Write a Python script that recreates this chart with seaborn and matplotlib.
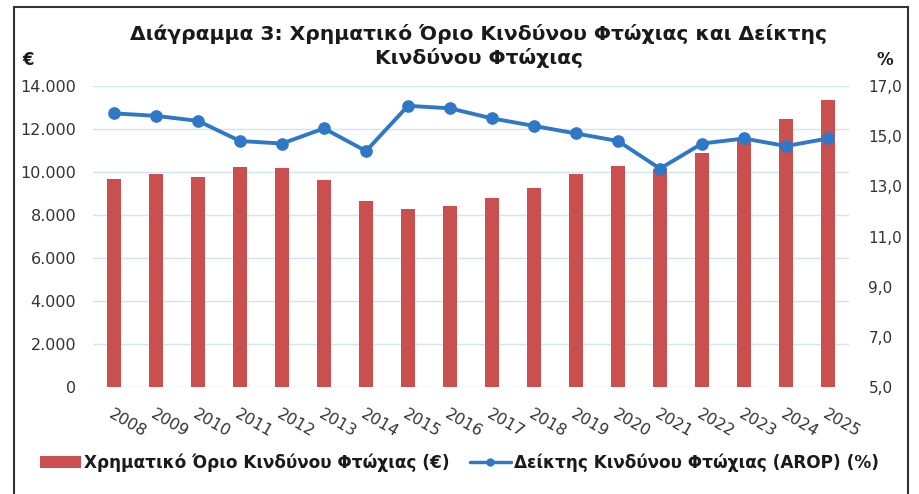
import numpy as np
import pandas as pd
import matplotlib.pyplot as plt
import seaborn as sns
from matplotlib.patches import Rectangle, Patch
from matplotlib.lines import Line2D
from matplotlib.ticker import FuncFormatter

years = [str(y) for y in range(2008, 2026)]
threshold = [9670, 9900, 9780, 10240, 10190, 9610, 8650, 8290, 8420,
             8770, 9270, 9900, 10270, 10150, 10880, 11560, 12450, 13340]
arop = [15.9, 15.8, 15.6, 14.8, 14.7, 15.3, 14.4, 16.2, 16.1,
        15.7, 15.4, 15.1, 14.8, 13.7, 14.7, 14.9, 14.6, 14.9]

bar_label = "Χρηματικό Όριο Κινδύνου Φτώχιας (€)"
line_label = "Δείκτης Κινδύνου Φτώχιας (AROP) (%)"
title = "Διάγραμμα 3: Χρηματικό Όριο Κινδύνου Φτώχιας και Δείκτης\nΚινδύνου Φτώχιας"

df = pd.DataFrame({"year": years, "threshold": threshold, "arop": arop})

sns.set_style("white")
plt.rcParams['font.family'] = ['DejaVu Sans']

red = '#c9504e'
blue = '#2f78c8'
txt = '#333333'

fig = plt.figure(figsize=(9.19, 4.94), dpi=100)
ax = fig.add_axes([93/919, 1 - 387.4/494, (849 - 93)/919, (387.4 - 85.7)/494])

# bars - left axis
sns.barplot(data=df, x="year", y="threshold", color=red, saturation=1,
            width=0.32, linewidth=0, ax=ax, zorder=2)
ax.set_ylim(0, 14000)
ax.set_yticks(range(0, 14001, 2000))
ax.yaxis.set_major_formatter(FuncFormatter(lambda v, p: f"{int(v):,}".replace(",", ".")))
ax.grid(axis='y', color='#cfe5f3', lw=1, zorder=0)
ax.set_axisbelow(True)
ax.set_xlim(-0.5, len(years) - 0.5)

# line - right axis
ax2 = ax.twinx()
sns.pointplot(data=df, x="year", y="arop", color=blue, markers='o',
              markersize=7, linewidth=2.8, ax=ax2)
ax2.set_ylim(5, 17)
ax2.set_yticks(np.arange(5, 17.1, 2))
ax2.yaxis.set_major_formatter(FuncFormatter(lambda v, p: f"{v:.1f}".replace(".", ",")))
ax2.set_xlim(-0.5, len(years) - 0.5)

for a in (ax, ax2):
    a.set_xlabel("")
    a.set_ylabel("")
    for s in a.spines.values():
        s.set_visible(False)
    a.tick_params(axis='y', length=0, labelsize=11.5, labelcolor=txt)

ax.tick_params(axis='y', pad=12)
ax2.tick_params(axis='y', pad=14, labelsize=11)
ax.set_xticks(range(len(years)))
ax.set_xticklabels(years, rotation=-30, ha='left', rotation_mode='anchor',
                   fontsize=11.5, color=txt)
ax.tick_params(axis='x', length=0, pad=14)
ax2.tick_params(axis='x', length=0, labelbottom=False)

fig.text(0.521, 1 - 46/494, title, ha='center', va='center', fontsize=14.6,
         fontweight='bold', color='#1a1a1a', linespacing=1.2)
fig.text(28/919, 1 - 60/494, "€", ha='center', va='center', fontsize=12,
         fontweight='bold', color='#1a1a1a')
fig.text(885/919, 1 - 60/494, "%", ha='center', va='center', fontsize=12,
         fontweight='bold', color='#1a1a1a')

handles = [Patch(facecolor=red, edgecolor='none'),
           Line2D([], [], color=blue, lw=2.5, marker='o', markersize=5)]
fig.legend(handles, [bar_label, line_label], loc='center', ncol=2,
           bbox_to_anchor=(0.5, 1 - 463/494), frameon=False,
           prop={'weight': 'bold', 'size': 12.2}, labelcolor='#1a1a1a',
           handlelength=2.4, handletextpad=0.2, columnspacing=1.2)

fig.patches.append(Rectangle((14/919, -0.1), (908 - 14)/919, 1 + 0.1 - 7/494,
                             transform=fig.transFigure, fill=False,
                             edgecolor='#333333', lw=1.5))

fig.savefig("out.png", dpi=100)
